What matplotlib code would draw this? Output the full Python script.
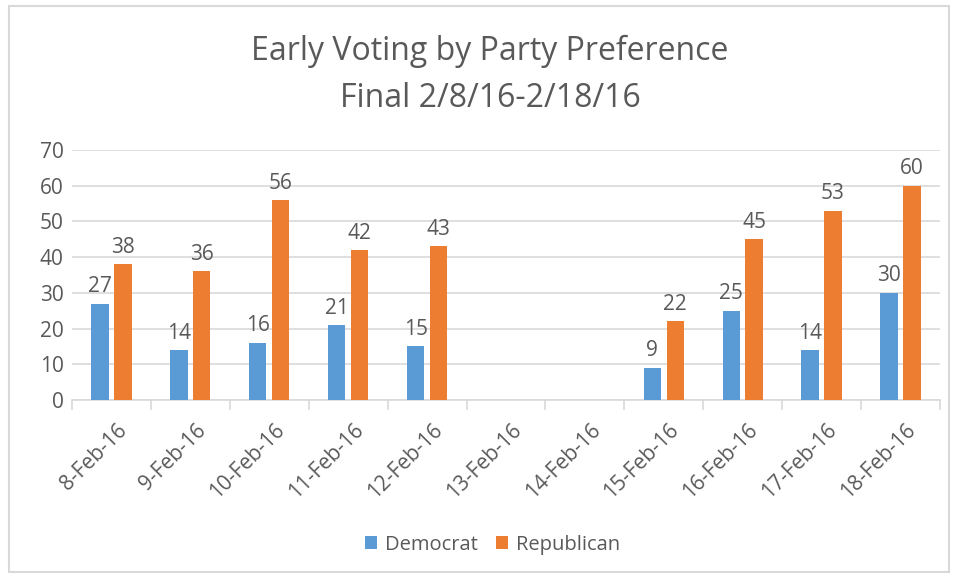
import matplotlib.pyplot as plt
import numpy as np
from matplotlib.patches import Rectangle

plt.rcParams["font.family"] = ["Open Sans", "DejaVu Sans"]

dates = ["8-Feb-16", "9-Feb-16", "10-Feb-16", "11-Feb-16", "12-Feb-16", "13-Feb-16",
         "14-Feb-16", "15-Feb-16", "16-Feb-16", "17-Feb-16", "18-Feb-16"]
democrat = [27, 14, 16, 21, 15, None, None, 9, 25, 14, 30]
republican = [38, 36, 56, 42, 43, None, None, 22, 45, 53, 60]

BLUE = "#5B9BD5"
ORANGE = "#ED7D31"
TEXT = "#595959"
GRID = "#D9D9D9"

fig = plt.figure(figsize=(9.57, 5.79), dpi=100)
fig.patches.append(Rectangle((0.009, 0.012), 0.983, 0.978, transform=fig.transFigure,
                             fill=False, edgecolor=GRID, linewidth=1.5))
ax = fig.add_axes([0.0752, 0.309, 0.907, 0.432])

x = np.arange(len(dates))
w = 0.22
off = 0.145
dem = [v if v is not None else 0 for v in democrat]
rep = [v if v is not None else 0 for v in republican]
ax.bar(x - off, dem, w, color=BLUE, label="Democrat", zorder=3)
ax.bar(x + off, rep, w, color=ORANGE, label="Republican", zorder=3)

for i in x:
    if democrat[i] is not None:
        ax.text(i - off, democrat[i] + 1.8, str(democrat[i]), ha="center", va="bottom",
                fontsize=15, color=TEXT)
    if republican[i] is not None:
        ax.text(i + off, republican[i] + 1.8, str(republican[i]), ha="center", va="bottom",
                fontsize=15, color=TEXT)

ax.set_xlim(-0.5, len(dates) - 0.5)
ax.set_ylim(0, 70)
ax.set_yticks(range(0, 71, 10))
ax.yaxis.grid(True, color=GRID, linewidth=1.2, zorder=0)
ax.set_axisbelow(True)
for s in ["top", "right", "left"]:
    ax.spines[s].set_visible(False)
ax.spines["bottom"].set_color(GRID)
ax.spines["bottom"].set_linewidth(1.2)

ax.set_xticks(x + 0.06)
ax.set_xticklabels(dates, rotation=45, ha="right", rotation_mode="anchor")
ax.tick_params(axis="x", length=0, labelsize=15, labelcolor=TEXT, pad=14)
ax.tick_params(axis="y", length=0, labelsize=15, labelcolor=TEXT, pad=6)
# tick marks between categories
ax.set_xticks(np.arange(-0.5, len(dates)), minor=True)
ax.tick_params(axis="x", which="minor", length=7, color=GRID, width=1.2)

fig.text(0.512, 0.912, "Early Voting by Party Preference", ha="center", va="center",
         fontsize=23, color=TEXT)
fig.text(0.512, 0.83, "Final 2/8/16-2/18/16", ha="center", va="center",
         fontsize=23, color=TEXT)

fig.legend(loc="center", bbox_to_anchor=(0.515, 0.059), ncol=2, frameon=False,
           fontsize=14.5, labelcolor=TEXT, handlelength=0.6, handleheight=0.6,
           handletextpad=0.4, columnspacing=0.9)

fig.savefig("out.png", dpi=100)
